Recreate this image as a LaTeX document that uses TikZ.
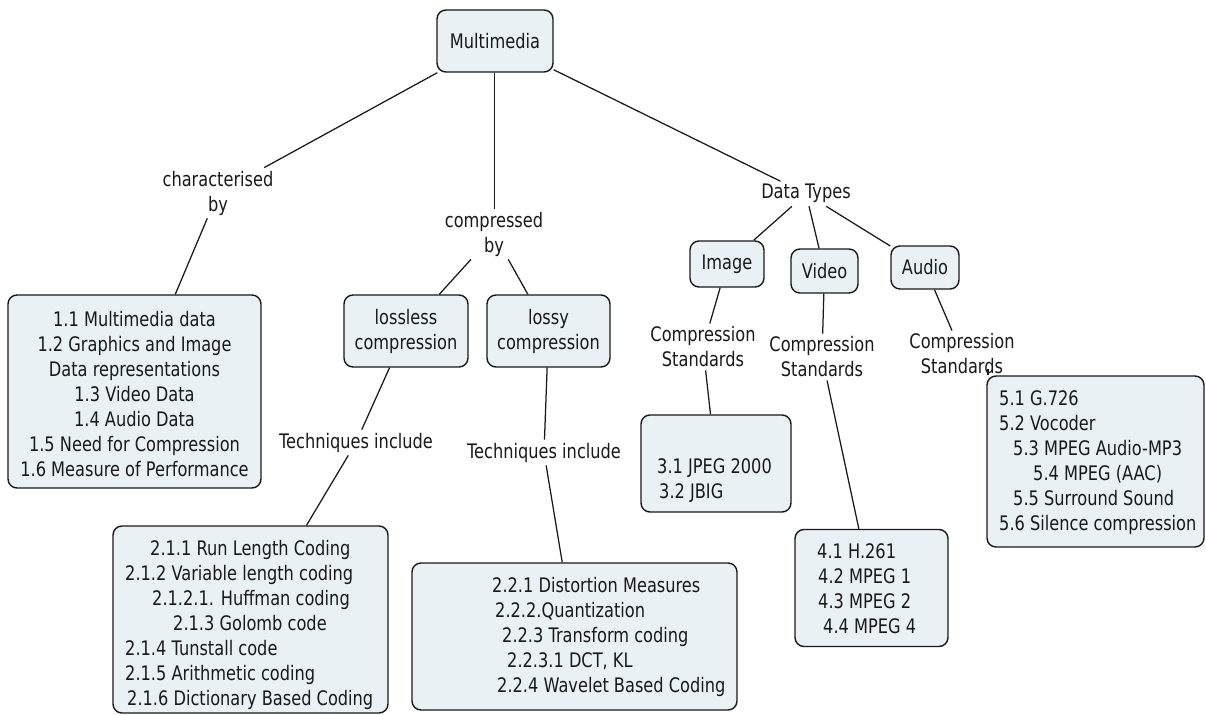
\documentclass[tikz,border=0pt]{standalone}
\usepackage{fontspec}
\setmainfont{DejaVu Sans}[FakeStretch=0.81]
\usetikzlibrary{calc}
\definecolor{boxfill}{RGB}{234,241,245}
\definecolor{ink}{RGB}{25,25,25}
\begin{document}
\begin{tikzpicture}[x=1bp,y=-1bp,
  every node/.style={font=\fontsize{20bp}{25bp}\selectfont, text=ink},
  box/.style={draw=ink, fill=boxfill, line width=1.4bp, rounded corners=9bp, inner sep=0pt, align=center},
  linkword/.style={inner sep=3bp, align=center},
  item/.style={inner sep=0pt},
  conn/.style={draw=ink, line width=1.25bp}
]
\useasboundingbox[fill=white] (0,0) rectangle (1206,715);

% concepts
\node[box, minimum width=116bp, minimum height=62bp] (mm) at (495,41) {Multimedia};
\node[box, minimum width=124bp, minimum height=72bp] (lossless) at (406,331) {lossless\\compression};
\node[box, minimum width=123bp, minimum height=72bp] (lossy) at (548.5,331) {lossy\\compression};
\node[box, minimum width=74bp, minimum height=46bp] (img) at (727,264) {Image};
\node[box, minimum width=67bp, minimum height=44bp] (vid) at (824.5,271) {Video};
\node[box, minimum width=68bp, minimum height=43bp] (aud) at (925,267.5) {Audio};

% list boxes
\node[box, minimum width=253bp, minimum height=193bp] (b1) at (134.5,391.5) {};
\node[box, minimum width=275bp, minimum height=187bp] (b21) at (250.5,619.5) {};
\node[box, minimum width=325bp, minimum height=147bp] (b22) at (574.5,636.5) {};
\node[box, minimum width=150bp, minimum height=97bp] (b3) at (716,463.5) {};
\node[box, minimum width=153bp, minimum height=117bp] (b4) at (871.5,588) {};
\node[box, minimum width=217bp, minimum height=171bp] (b5) at (1095.5,461.5) {};

% linking phrases
\node[linkword] (char) at (218,193) {characterised\\by};
\node[linkword] (comp) at (494,234) {compressed\\by};
\node[linkword, anchor=base] (dt) at (806,199) {Data Types};
\node[linkword] (cs1) at (703,347) {Compression\\Standards};
\node[linkword] (cs2) at (822,357) {Compression\\Standards};
\node[linkword] (cs3) at (962,354) {Compression\\Standards};
\node[linkword, anchor=base] (tech1) at (356,448) {Techniques include};
\node[linkword, anchor=base] (tech2) at (544,458) {Techniques include};

% list contents
\foreach \t [count=\i] in {1.1 Multimedia data, 1.2 Graphics and Image, Data representations, 1.3 Video Data, 1.4 Audio Data, 1.5 Need for Compression, 1.6 Measure of Performance}
  \node[item, anchor=base] (b1t\i) at (134.5,{301+25*\i}) {\t};
\foreach \dx/\t [count=\i] in {150/2.1.1 Run Length Coding, 125/2.1.2 Variable length coding, 152/2.1.2.1. Huffman coding, 173/2.1.3 Golomb code, 125/2.1.4 Tunstall code, 125/2.1.5 Arithmetic coding, 127/2.1.6 Dictionary Based Coding}
  \node[item, anchor=base west] (b21t\i) at (\dx,{530+25*\i}) {\t};
\foreach \dx/\t [count=\i] in {492/2.2.1 Distortion Measures, 495/2.2.2.Quantization, 502/2.2.3 Transform coding, 507/{2.2.3.1 DCT, KL}, 497/2.2.4 Wavelet Based Coding}
  \node[item, anchor=base west] (b22t\i) at (\dx,{567+25*\i}) {\t};
\foreach \dx/\t [count=\i] in {657/3.1 JPEG 2000, 659/3.2 JBIG}
  \node[item, anchor=base west] (b3t\i) at (\dx,{448+25*\i}) {\t};
\foreach \dx/\t [count=\i] in {817/4.1 H.261, 818/4.2 MPEG 1, 818/4.3 MPEG 2, 823/4.4 MPEG 4}
  \node[item, anchor=base west] (b4t\i) at (\dx,{533+25*\i}) {\t};
\foreach \dx/\t [count=\i] in {999/5.1 G.726, 999/5.2 Vocoder, 1013/5.3 MPEG Audio-MP3, 1033/5.4 MPEG (AAC), 1013/5.5 Surround Sound, 999/5.6 Silence compression}
  \node[item, anchor=base west] (b5t\i) at (\dx,{380+25*\i}) {\t};

% connectors
\draw[conn] (mm) -- (char);
\draw[conn] (char) -- (b1);
\coordinate (mmfoot) at ([xshift=-0.5bp]mm.south);
\draw[conn, line width=1bp] (mmfoot) -- (mmfoot |- comp.north);
\draw[conn] (comp) -- (lossless);
\draw[conn] (comp) -- (lossy);
\draw[conn] (mm) -- (dt);
\draw[conn] (dt) -- (img);
\draw[conn] (dt) -- (vid);
\draw[conn] (dt) -- (aud);
\draw[conn] (img) -- (cs1);
\draw[conn] (vid) -- (cs2);
\draw[conn] (aud) -- (cs3);
\draw[conn] (cs1) -- (b3);
\draw[conn] (cs2) -- (b4);
\coordinate (cs3tick) at ($(cs3.south)+(26,-8)$);
\draw[conn] (cs3tick) -- (cs3tick |- b5.north);
\draw[conn] (lossless) -- (tech1);
\draw[conn] (tech1) -- (b21);
\draw[conn] (lossy) -- (tech2);
\draw[conn] (tech2) -- (b22);
\end{tikzpicture}
\end{document}
